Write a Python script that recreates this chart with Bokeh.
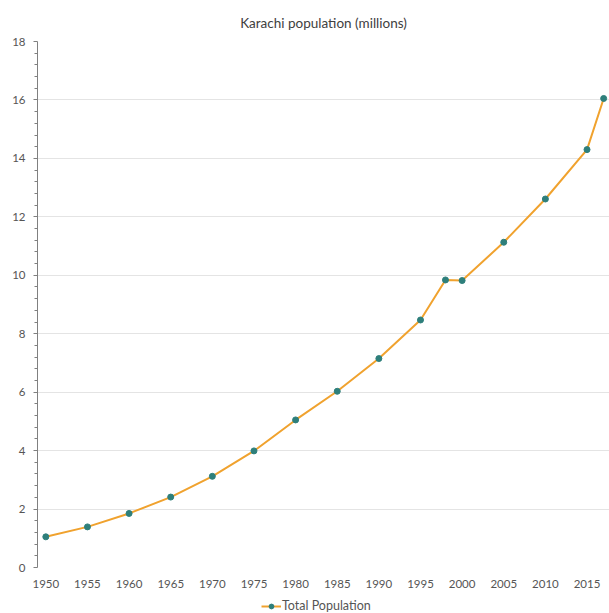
from bokeh.plotting import figure
from bokeh.layouts import column
from bokeh.models import FixedTicker, Range1d, Legend, LegendItem
from bokeh.embed import file_html
from bokeh.resources import INLINE

years = [1950, 1955, 1960, 1965, 1970, 1975, 1980, 1985, 1990, 1995, 1998, 2000, 2005, 2010, 2015, 2017]
population = [1.05, 1.39, 1.85, 2.41, 3.12, 3.99, 5.05, 6.03, 7.15, 8.47, 9.84, 9.82, 11.13, 12.61, 14.30, 16.05]
x_ticks = [1950, 1955, 1960, 1965, 1970, 1975, 1980, 1985, 1990, 1995, 2000, 2005, 2010, 2015]
y_ticks = [0, 2, 4, 6, 8, 10, 12, 14, 16, 18]
y_minor = [round(i * 0.4, 1) for i in range(46) if round(i * 0.4, 1) % 2 != 0]
series_name = "Total Population"

FONT = "Lato"
LINE_COLOR = "#F0A22E"
MARK_COLOR = "#2E7F7B"

p = figure(width=609, height=596, output_backend="svg", toolbar_location=None,
           x_range=Range1d(1949.0, 2017.7), y_range=Range1d(0, 18),
           min_border_left=37, min_border_right=0, min_border_top=41, min_border_bottom=29)
p.title.text = "Karachi population (millions)"
p.title.align = "center"
p.title.text_font = FONT
p.title.text_font_size = "13.5px"
p.title.text_font_style = "normal"
p.title.text_color = "#404040"
p.title.standoff = 22
p.outline_line_color = None

p.xgrid.grid_line_color = None
p.ygrid.grid_line_color = "#e4e4e4"
p.ygrid.ticker = FixedTicker(ticks=y_ticks)

xa = p.xaxis[0]
xa.ticker = FixedTicker(ticks=x_ticks)
xa.axis_line_color = None
xa.major_tick_line_color = None
xa.minor_tick_line_color = None
xa.major_label_text_font = FONT
xa.major_label_text_font_size = "11.5px"
xa.major_label_text_color = "#555555"
xa.major_label_standoff = 6

ya = p.yaxis[0]
ya.ticker = FixedTicker(ticks=y_ticks, minor_ticks=y_minor)
ya.axis_line_color = "#808080"
ya.major_tick_line_color = "#808080"
ya.minor_tick_line_color = "#808080"
ya.major_tick_out = 4
ya.major_tick_in = 0
ya.minor_tick_out = 3
ya.minor_tick_in = 0
ya.major_label_text_font = FONT
ya.major_label_text_font_size = "11.5px"
ya.major_label_text_color = "#555555"
ya.major_label_standoff = 8

p.line(years, population, line_color=LINE_COLOR, line_width=2)
p.scatter(years, population, size=6, fill_color=MARK_COLOR, line_color=MARK_COLOR)

# legend strip below the chart; its renderers lie outside its (empty) view
lg = figure(width=609, height=17, output_backend="svg", toolbar_location=None,
            x_range=Range1d(0, 1), y_range=Range1d(0, 1),
            x_axis_type=None, y_axis_type=None, min_border=0, outline_line_color=None)
lg.xgrid.visible = False
lg.ygrid.visible = False
k_line = lg.line(years, population, line_color=LINE_COLOR, line_width=2)
k_pts = lg.scatter(years, population, size=6, fill_color=MARK_COLOR, line_color=MARK_COLOR)
legend = Legend(items=[LegendItem(label=series_name, renderers=[k_line, k_pts])],
                location=(224, 0), orientation="horizontal",
                label_text_font=FONT, label_text_font_size="12.5px", label_text_color="#555555",
                border_line_color=None, background_fill_alpha=0,
                glyph_width=20, glyph_height=12, padding=1, margin=0, label_standoff=1,
                label_height=12)
lg.add_layout(legend)

layout = column(p, lg, spacing=0)
open("out.html", "w").write(file_html(layout, INLINE))
